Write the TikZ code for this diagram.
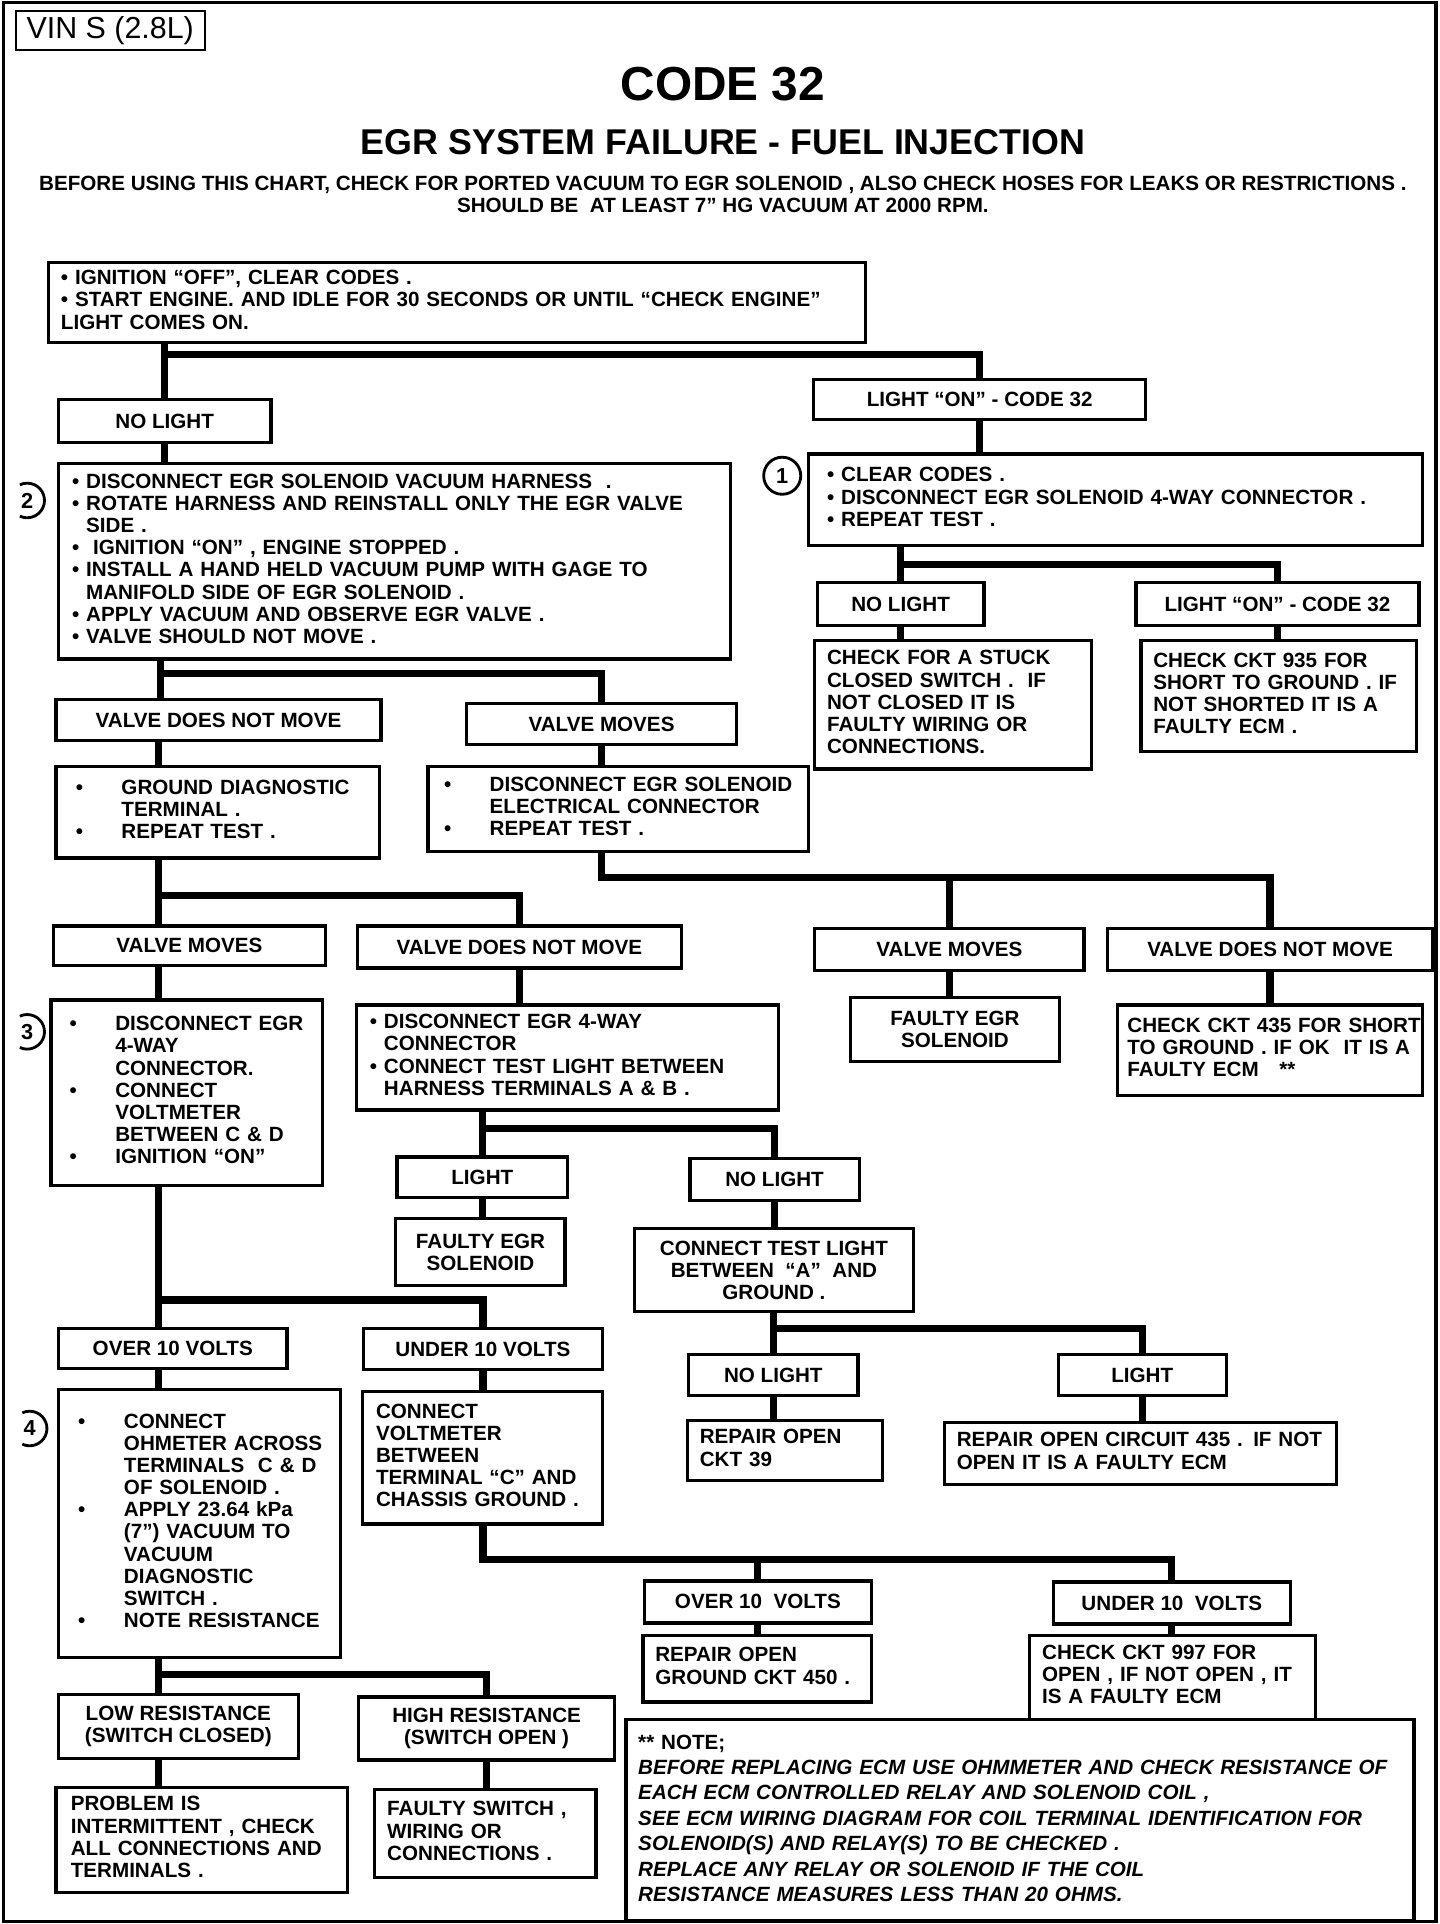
\documentclass[tikz,border=0pt]{standalone}
\usepackage{fontspec}
\setmainfont{Liberation Sans}
\newcommand{\chartfont}{\fontsize{9.5}{10.2}\selectfont\bfseries}
\newcommand{\boxlines}[1]{\begin{tabular}{@{}l@{}}#1\end{tabular}}
\newcommand{\dotcol}{\makebox[0.74cm][l]{•}}
\newcommand{\gapcol}{\hspace*{0.74cm}}

\begin{document}
\begin{tikzpicture}[x=0.02cm,y=-0.02cm,
    box/.style={draw, line width=1.5pt, anchor=north west, inner xsep=0.2cm, inner ysep=0pt, align=left, font=\chartfont},
    tag/.style={draw, line width=1.5pt, anchor=north west, inner sep=0pt, align=center, font=\chartfont},
    link/.style={line width=3.3pt},
    ring/.style={line width=1.3pt},
    num/.style={inner sep=0pt, font=\fontsize{10}{10}\selectfont\bfseries}]

    \useasboundingbox (0,0) rectangle (1165,1557);
    \draw[line width=1.5pt] (3,2) rectangle (1162,1555);

    \node[draw, line width=0.8pt, anchor=north west, minimum width=3.06cm, minimum height=0.64cm, inner sep=0pt,
          font=\fontsize{14}{14}\selectfont] (vin) at (12,8) {VIN S (2.8L)};
    \node[font=\fontsize{22}{22}\selectfont\bfseries] (code) at (585,68) {CODE 32};
    \node[font=\fontsize{16.5}{16.5}\selectfont\bfseries] (fail) at (585,115) {EGR SYSTEM FAILURE - FUEL INJECTION};
    \node[font=\fontsize{9.5}{10.2}\selectfont\bfseries, align=center] (before) at (585,157)
        {BEFORE USING THIS CHART, CHECK FOR PORTED VACUUM TO EGR SOLENOID , ALSO CHECK HOSES FOR LEAKS OR RESTRICTIONS .\\
         SHOULD BE\ \ AT LEAST 7” HG VACUUM AT 2000 RPM.};

    % first test
    \node[box, minimum width=13.22cm, minimum height=1.30cm, text width=12.82cm] (start) at (38,211)
        {\boxlines{• IGNITION “OFF”, CLEAR CODES .\\
                   • START ENGINE. AND IDLE FOR 30 SECONDS OR UNTIL “CHECK ENGINE”\\
                   LIGHT COMES ON.}};
    \node[tag, minimum width=3.44cm, minimum height=0.70cm] (nolightA) at (46,322) {NO LIGHT};
    \node[tag, minimum width=5.38cm, minimum height=0.64cm] (lightonA) at (657,306) {LIGHT “ON” - CODE 32};

    \node[box, minimum width=10.88cm, minimum height=3.16cm, text width=10.44cm] (box2) at (46,374)
        {\boxlines{• DISCONNECT EGR SOLENOID VACUUM HARNESS\ \ .\\
                   • ROTATE HARNESS AND REINSTALL ONLY THE EGR VALVE\\
                   \phantom{• }SIDE .\\
                   •\ \ IGNITION “ON” , ENGINE STOPPED .\\
                   • INSTALL A HAND HELD VACUUM PUMP WITH GAGE TO\\
                   \phantom{• }MANIFOLD SIDE OF EGR SOLENOID .\\
                   • APPLY VACUUM AND OBSERVE EGR VALVE .\\
                   • VALVE SHOULD NOT MOVE .}};
    \node[box, inner xsep=0.3cm, minimum width=9.94cm, minimum height=1.48cm, text width=9.34cm] (box1) at (653,366)
        {\boxlines{• CLEAR CODES .\\
                   • DISCONNECT EGR SOLENOID 4-WAY CONNECTOR .\\
                   • REPEAT TEST .}};

    \node[num] (c1) at (633,385) {1};
    \draw[ring] (c1) circle[radius=0.3cm];
    \node[num] (c2) at (22,405) {2};
    \draw[ring] (c2.center) ++(-115:0.28cm) arc[start angle=-115, end angle=115, radius=0.28cm];

    \node[tag, minimum width=2.70cm, minimum height=0.70cm] (nolightB) at (660,470) {NO LIGHT};
    \node[tag, minimum width=4.58cm, minimum height=0.70cm] (lightonB) at (918,470) {LIGHT “ON” - CODE 32};
    \node[box, minimum width=4.48cm, minimum height=2.08cm, text width=4.08cm] (stuck) at (658,517)
        {\boxlines{CHECK FOR A STUCK\\ CLOSED SWITCH .\ \ IF\\ NOT CLOSED IT IS\\ FAULTY WIRING OR\\ CONNECTIONS.}};
    \node[box, minimum width=4.46cm, minimum height=1.80cm, text width=4.06cm] (ckt935) at (922,517)
        {\boxlines{CHECK CKT 935 FOR\\ SHORT TO GROUND . IF\\ NOT SHORTED IT IS A\\ FAULTY ECM .}};

    % valve test
    \node[tag, minimum width=5.26cm, minimum height=0.66cm] (vdnmA) at (44,565) {VALVE DOES NOT MOVE};
    \node[tag, minimum width=4.38cm, minimum height=0.66cm] (vmA) at (376,568) {VALVE MOVES};
    \node[box, inner xsep=0.32cm, minimum width=5.24cm, minimum height=1.48cm, text width=4.60cm] (ground) at (44,619)
        {\boxlines{\dotcol GROUND DIAGNOSTIC\\ \gapcol TERMINAL .\\ \dotcol REPEAT TEST .}};
    \node[box, inner xsep=0.26cm, minimum width=6.16cm, minimum height=1.38cm, text width=5.64cm] (elec) at (345,619)
        {\boxlines{\dotcol DISCONNECT EGR SOLENOID\\ \gapcol ELECTRICAL CONNECTOR\\ \dotcol REPEAT TEST .}};

    \node[tag, minimum width=4.40cm, minimum height=0.64cm] (vmB) at (42,748) {VALVE MOVES};
    \node[tag, minimum width=5.24cm, minimum height=0.68cm] (vdnmB) at (288,748) {VALVE DOES NOT MOVE};
    \node[tag, minimum width=4.36cm, minimum height=0.68cm] (vmC) at (658,750) {VALVE MOVES};
    \node[tag, minimum width=5.26cm, minimum height=0.68cm] (vdnmC) at (895,750) {VALVE DOES NOT MOVE};

    \node[box, inner xsep=0.3cm, minimum width=4.40cm, minimum height=3.00cm, text width=3.80cm] (box3) at (40,808)
        {\boxlines{\dotcol DISCONNECT EGR\\ \gapcol 4-WAY\\ \gapcol CONNECTOR.\\ \dotcol CONNECT\\
                   \gapcol VOLTMETER\\ \gapcol BETWEEN C \& D\\ \dotcol IGNITION “ON”}};
    \node[num] (c3) at (22,835) {3};
    \draw[ring] (c3.center) ++(-115:0.28cm) arc[start angle=-115, end angle=115, radius=0.28cm];
    \node[box, inner xsep=0.22cm, minimum width=6.84cm, minimum height=1.70cm, text width=6.40cm] (fourway) at (287,812)
        {\boxlines{• DISCONNECT EGR 4-WAY\\ \phantom{• }CONNECTOR\\
                   • CONNECT TEST LIGHT BETWEEN\\ \phantom{• }HARNESS TERMINALS A \& B .}};
    \node[tag, minimum width=3.38cm, minimum height=1.04cm] (faultyA) at (687,806) {FAULTY EGR\\ SOLENOID};
    \node[box, inner xsep=0.16cm, minimum width=4.94cm, minimum height=1.46cm, text width=4.62cm] (ckt435) at (903,812)
        {\boxlines{CHECK CKT 435 FOR SHORT\\ TO GROUND . IF OK\ \ IT IS A\\ FAULTY ECM\quad **}};

    % test light
    \node[tag, minimum width=2.76cm, minimum height=0.66cm] (lightA) at (320,935) {LIGHT};
    \node[tag, minimum width=2.74cm, minimum height=0.68cm] (nolightC) at (557,936) {NO LIGHT};
    \node[tag, minimum width=2.74cm, minimum height=1.08cm] (faultyB) at (319,985) {FAULTY EGR\\ SOLENOID};
    \node[tag, minimum width=4.52cm, minimum height=1.34cm] (testlight) at (512,993)
        {CONNECT TEST LIGHT\\ BETWEEN\ \ “A”\ \ AND\\ GROUND .};
    \node[tag, minimum width=2.74cm, minimum height=0.66cm] (nolightD) at (556,1095) {NO LIGHT};
    \node[tag, minimum width=2.72cm, minimum height=0.66cm] (lightB) at (855,1095) {LIGHT};
    \node[box, minimum width=3.16cm, minimum height=0.98cm, text width=2.76cm] (ckt39) at (555,1148)
        {\boxlines{REPAIR OPEN\\ CKT 39}};
    \node[box, minimum width=6.34cm, minimum height=1.00cm, text width=5.94cm] (ckt435r) at (763,1150)
        {\boxlines{REPAIR OPEN CIRCUIT 435 . IF NOT\\ OPEN IT IS A FAULTY ECM}};

    % voltmeter
    \node[tag, minimum width=3.70cm, minimum height=0.64cm] (overA) at (46,1074) {OVER 10 VOLTS};
    \node[tag, minimum width=3.86cm, minimum height=0.66cm] (underA) at (293,1074) {UNDER 10 VOLTS};
    \node[box, inner xsep=0.32cm, minimum width=4.56cm, minimum height=4.34cm, text width=3.92cm] (box4) at (46,1123)
        {\boxlines{\dotcol CONNECT\\ \gapcol OHMETER ACROSS\\ \gapcol TERMINALS\ \ C \& D\\ \gapcol OF SOLENOID .\\
                   \dotcol APPLY 23.64 kPa\\ \gapcol (7”) VACUUM TO\\ \gapcol VACUUM\\ \gapcol DIAGNOSTIC\\
                   \gapcol SWITCH .\\ \dotcol NOTE RESISTANCE}};
    \node[num] (c4) at (24,1156) {4};
    \draw[ring] (c4.center) ++(-115:0.28cm) arc[start angle=-115, end angle=115, radius=0.28cm];
    \node[box, inner xsep=0.22cm, minimum width=3.88cm, minimum height=2.14cm, text width=3.44cm] (voltm) at (292,1125)
        {\boxlines{CONNECT\\ VOLTMETER\\ BETWEEN\\ TERMINAL “C” AND\\ CHASSIS GROUND .}};
    \node[tag, minimum width=3.68cm, minimum height=0.68cm] (overB) at (520,1278) {OVER 10\ \ VOLTS};
    \node[tag, minimum width=3.84cm, minimum height=0.68cm] (underB) at (851,1279) {UNDER 10\ \ VOLTS};
    \node[box, minimum width=3.70cm, minimum height=1.08cm, text width=3.30cm] (ckt450) at (519,1322)
        {\boxlines{REPAIR OPEN\\ GROUND CKT 450 .}};
    \node[box, minimum width=4.62cm, minimum height=1.36cm, text width=4.22cm] (ckt997) at (832,1322)
        {\boxlines{CHECK CKT 997 FOR\\ OPEN , IF NOT OPEN , IT\\ IS A FAULTY ECM}};

    % resistance
    \node[tag, minimum width=3.88cm, minimum height=1.04cm] (low) at (46,1370) {LOW RESISTANCE\\ (SWITCH CLOSED)};
    \node[tag, minimum width=4.14cm, minimum height=1.02cm] (high) at (289,1372) {HIGH RESISTANCE\\ (SWITCH OPEN )};
    \node[box, inner xsep=0.24cm, minimum width=4.72cm, minimum height=1.70cm, text width=4.24cm] (intermit) at (44,1445)
        {\boxlines{PROBLEM IS\\ INTERMITTENT , CHECK\\ ALL CONNECTIONS AND\\ TERMINALS .}};
    \node[box, minimum width=3.58cm, minimum height=1.42cm, text width=3.18cm] (faultysw) at (302,1447)
        {\boxlines{FAULTY SWITCH ,\\ WIRING OR\\ CONNECTIONS .}};

    \node[box, fill=white, line width=1.7pt, minimum width=12.76cm, minimum height=3.26cm, text width=12.36cm,
          font=\fontsize{9.5}{11.7}\selectfont\bfseries\itshape] (note) at (505,1390)
        {\boxlines{\upshape ** NOTE;\\
                   BEFORE REPLACING ECM USE OHMMETER AND CHECK RESISTANCE OF\\
                   EACH ECM CONTROLLED RELAY AND SOLENOID COIL ,\\
                   SEE ECM WIRING DIAGRAM FOR COIL TERMINAL IDENTIFICATION FOR\\
                   SOLENOID(S) AND RELAY(S) TO BE CHECKED .\\
                   REPLACE ANY RELAY OR SOLENOID IF THE COIL\\
                   RESISTANCE MEASURES LESS THAN 20 OHMS.}};

    \coordinate (j0) at (0,287);
    \coordinate (j1) at (0,457);
    \coordinate (j2) at (130,545);
    \coordinate (j3) at (128,725);
    \coordinate (j4) at (0,710);
    \coordinate (j5) at (0,913);
    \coordinate (j6) at (0,1075);
    \coordinate (j7) at (128,1052);
    \coordinate (j8) at (0,1262);
    \coordinate (j9) at (128,1355);

    \draw[link] (start.south -| nolightA) -- (nolightA.north);
    \draw[link] (nolightA |- j0) -| (lightonA.north);
    \draw[link] (nolightA.south) -- (box2.north -| nolightA);
    \draw[link] (lightonA.south) -- (box1.north -| lightonA);
    \draw[link] (box1.south -| nolightB) -- (nolightB.north);
    \draw[link] (nolightB |- j1) -| (lightonB.north);
    \draw[link] (nolightB.south) -- (stuck.north -| nolightB);
    \draw[link] (lightonB.south) -- (ckt935.north -| lightonB);

    \draw[link] (box2.south -| j2) -- (vdnmA.north -| j2);
    \draw[link] (j2) -| (vmA.north);
    \draw[link] (vdnmA.south -| j3) -- (ground.north -| j3);
    \draw[link] (vmA.south) -- (elec.north -| vmA);
    \draw[link] (ground.south -| j3) -- (vmB.north -| j3);
    \draw[link] (j3) -| (vdnmB.north);
    \draw[link] (elec.south -| vmA) |- (j4 -| vdnmC) -- (vdnmC.north);
    \draw[link] (j4 -| vmC) -- (vmC.north);

    \draw[link] (vmB.south -| j3) -- (box3.north -| j3);
    \draw[link] (vdnmB.south) -- (fourway.north -| vdnmB);
    \draw[link] (vmC.south) -- (faultyA.north -| vmC);
    \draw[link] (vdnmC.south) -- (ckt435.north -| vdnmC);
    \draw[link] (fourway.south -| lightA) |- (j5 -| nolightC) -- (nolightC.north);
    \draw[link] (j5 -| lightA) -- (lightA.north);
    \draw[link] (lightA.south) -- (faultyB.north -| lightA);
    \draw[link] (nolightC.south) -- (testlight.north -| nolightC);
    \draw[link] (testlight.south -| nolightD) |- (j6 -| lightB) -- (lightB.north);
    \draw[link] (j6 -| nolightD) -- (nolightD.north);
    \draw[link] (nolightD.south) -- (ckt39.north -| nolightD);
    \draw[link] (lightB.south) -- (ckt435r.north -| lightB);

    \draw[link] (box3.south -| j7) -- (overA.north -| j7);
    \draw[link] (j7) -| (underA.north);
    \draw[link] (overA.south -| j7) -- (box4.north -| j7);
    \draw[link] (underA.south) -- (voltm.north -| underA);
    \draw[link] (voltm.south -| underA) |- (j8 -| underB) -- (underB.north);
    \draw[link] (j8 -| overB) -- (overB.north);
    \draw[link] (overB.south) -- (ckt450.north -| overB);
    \draw[link] (underB.south) -- (ckt997.north -| underB);

    \draw[link] (box4.south -| j9) -- (low.north -| j9);
    \draw[link] (j9) -| (high.north);
    \draw[link] (low.south -| j9) -- (intermit.north -| j9);
    \draw[link] (high.south) -- (faultysw.north -| high);

\end{tikzpicture}
\end{document}
